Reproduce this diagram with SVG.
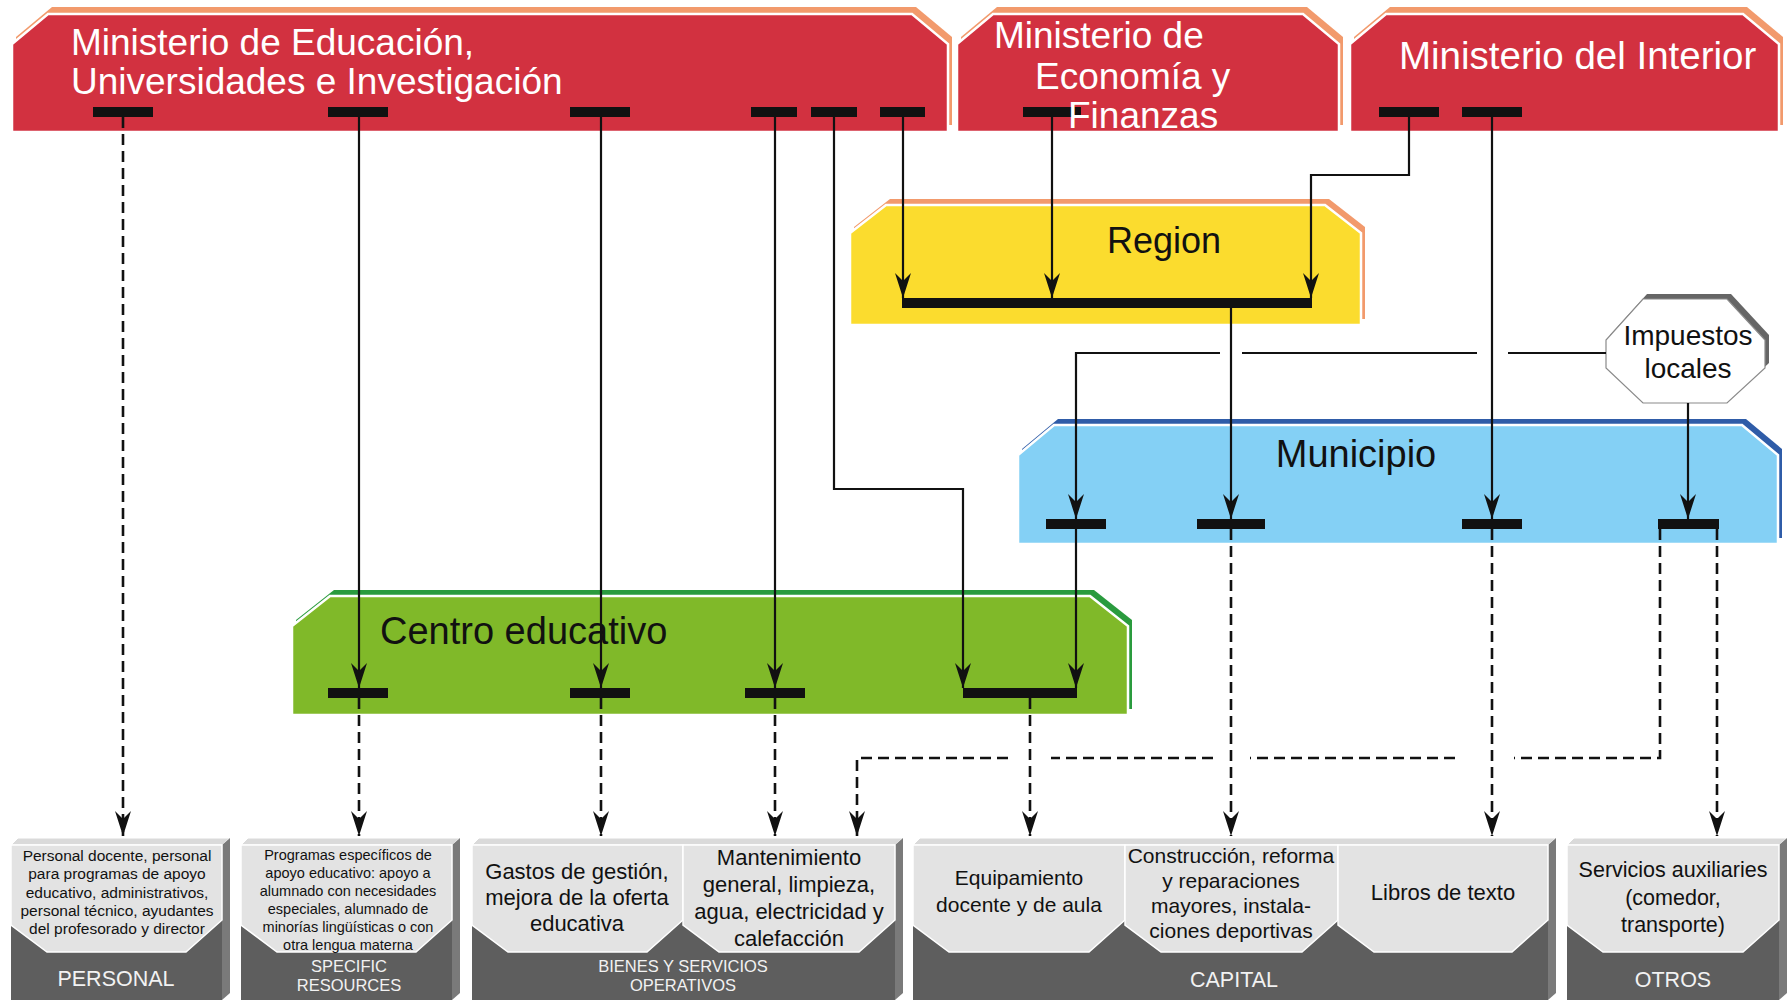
<svg xmlns="http://www.w3.org/2000/svg" width="1787" height="1000" viewBox="0 0 1787 1000">
<defs>
<style>
.t{font-family:"Liberation Sans",Arial,sans-serif;}
.mt{font-size:37px;fill:#fff;}
.ht{font-size:38px;fill:#111;text-anchor:middle;}
.bar{fill:#111;}
.ln{fill:none;stroke:#111;stroke-width:2.2;}
.dl{fill:none;stroke:#111;stroke-width:2.6;stroke-dasharray:11 6;}
.body{fill:#5e5e5e;}
.bev{fill:#dadada;stroke:#fff;stroke-width:1;}
.side{fill:#7a7a7a;}
.pan{fill:#e3e3e3;stroke:#fff;stroke-width:1.5;}
.pt{fill:#111;text-anchor:middle;}
.lb{fill:#f2f2f2;text-anchor:middle;}
</style>
<marker id="ah" markerUnits="userSpaceOnUse" markerWidth="28" markerHeight="20" viewBox="-26 -10 28 20" refX="0" refY="0" orient="auto">
<path d="M0,0 L-25,-8 L-17,0 L-25,8 Z" fill="#111"/>
</marker>
</defs>
<rect width="1787" height="1000" fill="#fff"/>

<g id="min-educacion">
<path d="M12,44 L48,14 L912,14 L948,44 L948,132 L12,132 Z" transform="translate(4,-7)" fill="#f29a6c"/>
<path d="M12,44 L48,14 L912,14 L948,44 L948,132 L12,132 Z" fill="#d23140" stroke="#fff" stroke-width="2.5"/>
<text class="t mt" x="71" y="55">Ministerio de Educación,</text>
<text class="t mt" x="71" y="94">Universidades e Investigación</text>
<rect class="bar" x="93" y="107" width="60" height="10"/>
<rect class="bar" x="328" y="107" width="60" height="10"/>
<rect class="bar" x="570" y="107" width="60" height="10"/>
<rect class="bar" x="751" y="107" width="46" height="10"/>
<rect class="bar" x="811" y="107" width="46" height="10"/>
<rect class="bar" x="880" y="107" width="45" height="10"/>
</g>

<g id="min-economia">
<path d="M957,44 L993,14 L1303,14 L1339,44 L1339,132 L957,132 Z" transform="translate(4,-7)" fill="#f29a6c"/>
<path d="M957,44 L993,14 L1303,14 L1339,44 L1339,132 L957,132 Z" fill="#d23140" stroke="#fff" stroke-width="2.5"/>
<rect class="bar" x="1023" y="107" width="58" height="10"/>
<text class="t mt" x="994" y="48">Ministerio de</text>
<text class="t mt" x="1035" y="89">Economía y</text>
<text class="t mt" x="1068" y="128">Finanzas</text>
</g>

<g id="min-interior">
<path d="M1350,44 L1386,14 L1743,14 L1779,44 L1779,132 L1350,132 Z" transform="translate(4,-7)" fill="#f29a6c"/>
<path d="M1350,44 L1386,14 L1743,14 L1779,44 L1779,132 L1350,132 Z" fill="#d23140" stroke="#fff" stroke-width="2.5"/>
<text class="t mt" x="1399" y="69" style="font-size:38.5px">Ministerio del Interior</text>
<rect class="bar" x="1379" y="107" width="60" height="10"/>
<rect class="bar" x="1462" y="107" width="60" height="10"/>
</g>

<g id="region">
<path d="M850,233 L886,205 L1325,205 L1361,233 L1361,325 L850,325 Z" transform="translate(4,-6)" fill="#f29a6c"/>
<path d="M850,233 L886,205 L1325,205 L1361,233 L1361,325 L850,325 Z" fill="#fbdc2e" stroke="#fff" stroke-width="2.5"/>
<text class="t ht" x="1164" y="253" style="font-size:36px">Region</text>
<rect class="bar" x="902" y="298" width="410" height="10"/>
</g>

<g id="impuestos-locales">
<polygon points="1643,299 1727,299 1765,340 1765,368 1727,403 1643,403 1606,368 1606,340" transform="translate(4,-5)" fill="#666"/>
<polygon points="1643,299 1727,299 1765,340 1765,368 1727,403 1643,403 1606,368 1606,340" fill="#fff" stroke="#8a8a8a" stroke-width="1.2"/>
<text class="t pt" x="1688" y="345" style="font-size:28px">Impuestos</text>
<text class="t pt" x="1688" y="378" style="font-size:28px">locales</text>
</g>

<g id="municipio">
<path d="M1018,455 L1054,425 L1742,425 L1778,455 L1778,544 L1018,544 Z" transform="translate(4,-6)" fill="#2f5ca8"/>
<path d="M1018,455 L1054,425 L1742,425 L1778,455 L1778,544 L1018,544 Z" fill="#84d0f5" stroke="#fff" stroke-width="2.5"/>
<text class="t ht" x="1356" y="467">Municipio</text>
<rect class="bar" x="1046" y="519" width="60" height="10"/>
<rect class="bar" x="1197" y="519" width="68" height="10"/>
<rect class="bar" x="1462" y="519" width="60" height="10"/>
<rect class="bar" x="1658" y="519" width="61" height="10"/>
</g>

<g id="centro-educativo">
<path d="M292,626 L330,596 L1090,596 L1128,626 L1128,715 L292,715 Z" transform="translate(4,-6)" fill="#2a9b3e"/>
<path d="M292,626 L330,596 L1090,596 L1128,626 L1128,715 L292,715 Z" fill="#80b929" stroke="#fff" stroke-width="2.5"/>
<text class="t" x="380" y="644" style="font-size:38px;fill:#111">Centro educativo</text>
<rect class="bar" x="328" y="688" width="60" height="10"/>
<rect class="bar" x="570" y="688" width="60" height="10"/>
<rect class="bar" x="745" y="688" width="60" height="10"/>
<rect class="bar" x="963" y="688" width="114" height="10"/>
</g>

<g id="personal">
<rect class="body" x="11" y="845" width="211" height="155"/>
<polygon class="bev" points="11,845 18,838 230,838 222,845"/>
<polygon class="side" points="222,845 230,838 230,993 222,1000"/>
<polygon class="pan" points="11,845 222,845 222,920 186,952 47,952 11,925"/>
<g class="t pt" style="font-size:15.5px">
<text x="117" y="861">Personal docente, personal</text>
<text x="117" y="879">para programas de apoyo</text>
<text x="117" y="898">educativo, administrativos,</text>
<text x="117" y="916">personal técnico, ayudantes</text>
<text x="117" y="934">del profesorado y director</text>
</g>
<text class="t lb" x="116" y="986" style="font-size:21.5px">PERSONAL</text>
</g>

<g id="specific-resources">
<rect class="body" x="241" y="845" width="211" height="155"/>
<polygon class="bev" points="241,845 248,838 460,838 452,845"/>
<polygon class="side" points="452,845 460,838 460,993 452,1000"/>
<polygon class="pan" points="241,845 452,845 452,920 416,952 277,952 241,925"/>
<g class="t pt" style="font-size:14.5px">
<text x="348" y="860">Programas específicos de</text>
<text x="348" y="878">apoyo educativo: apoyo a</text>
<text x="348" y="896">alumnado con necesidades</text>
<text x="348" y="914">especiales, alumnado de</text>
<text x="348" y="932">minorías lingüísticas o con</text>
<text x="348" y="950">otra lengua materna</text>
</g>
<text class="t lb" x="349" y="972" style="font-size:16.5px">SPECIFIC</text>
<text class="t lb" x="349" y="991" style="font-size:16.5px">RESOURCES</text>
</g>

<g id="bienes-servicios">
<rect class="body" x="472" y="845" width="423" height="155"/>
<polygon class="bev" points="472,845 479,838 903,838 895,845"/>
<polygon class="side" points="895,845 903,838 903,993 895,1000"/>
<polygon class="pan" points="472,845 683,845 683,920 647,952 508,952 472,925"/>
<polygon class="pan" points="683,845 895,845 895,920 859,952 719,952 683,925"/>
<g class="t pt" style="font-size:22px">
<text x="577" y="879">Gastos de gestión,</text>
<text x="577" y="905">mejora de la oferta</text>
<text x="577" y="931">educativa</text>
<text x="789" y="865">Mantenimiento</text>
<text x="789" y="892">general, limpieza,</text>
<text x="789" y="919">agua, electricidad y</text>
<text x="789" y="946">calefacción</text>
</g>
<text class="t lb" x="683" y="972" style="font-size:16.5px">BIENES Y SERVICIOS</text>
<text class="t lb" x="683" y="991" style="font-size:16.5px">OPERATIVOS</text>
</g>

<g id="capital">
<rect class="body" x="913" y="845" width="635" height="155"/>
<polygon class="bev" points="913,845 920,838 1556,838 1548,845"/>
<polygon class="side" points="1548,845 1556,838 1556,993 1548,1000"/>
<polygon class="pan" points="913,845 1125,845 1125,920 1089,952 949,952 913,925"/>
<polygon class="pan" points="1125,845 1338,845 1338,920 1302,952 1161,952 1125,925"/>
<polygon class="pan" points="1338,845 1548,845 1548,920 1512,952 1374,952 1338,925"/>
<g class="t pt" style="font-size:21px">
<text x="1019" y="885">Equipamiento</text>
<text x="1019" y="912">docente y de aula</text>
<text x="1231" y="863">Construcción, reforma</text>
<text x="1231" y="888">y reparaciones</text>
<text x="1231" y="913">mayores, instala-</text>
<text x="1231" y="938">ciones deportivas</text>
<text x="1443" y="900" style="font-size:22px">Libros de texto</text>
</g>
<text class="t lb" x="1234" y="987" style="font-size:21.5px">CAPITAL</text>
</g>

<g id="otros">
<rect class="body" x="1567" y="845" width="212" height="155"/>
<polygon class="bev" points="1567,845 1574,838 1787,838 1779,845"/>
<polygon class="side" points="1779,845 1787,838 1787,993 1779,1000"/>
<polygon class="pan" points="1567,845 1779,845 1779,920 1743,952 1603,952 1567,925"/>
<g class="t pt" style="font-size:21.5px">
<text x="1673" y="877">Servicios auxiliaries</text>
<text x="1673" y="905">(comedor,</text>
<text x="1673" y="932">transporte)</text>
</g>
<text class="t lb" x="1673" y="987" style="font-size:21.5px">OTROS</text>
</g>

<g id="connectors">
<path class="ln" d="M359,117 V688" marker-end="url(#ah)"/>
<path class="ln" d="M601,117 V688" marker-end="url(#ah)"/>
<path class="ln" d="M775,117 V688" marker-end="url(#ah)"/>
<path class="ln" d="M834,117 V489 H963 V688" marker-end="url(#ah)"/>
<path class="ln" d="M903,117 V298" marker-end="url(#ah)"/>
<path class="ln" d="M1052,117 V298" marker-end="url(#ah)"/>
<path class="ln" d="M1409,117 V175 H1311 V298" marker-end="url(#ah)"/>
<path class="ln" d="M1492,117 V519" marker-end="url(#ah)"/>
<path class="ln" d="M1231,308 V519" marker-end="url(#ah)"/>
<path class="ln" d="M1606,353 H1508"/>
<path class="ln" d="M1477,353 H1242"/>
<path class="ln" d="M1220,353 H1076 V519" marker-end="url(#ah)"/>
<path class="ln" d="M1688,403 V519" marker-end="url(#ah)"/>
<path class="ln" d="M1076,529 V688" marker-end="url(#ah)"/>
<path class="dl" d="M123,117 V836" marker-end="url(#ah)"/>
<path class="dl" d="M359,698 V836" marker-end="url(#ah)"/>
<path class="dl" d="M601,698 V836" marker-end="url(#ah)"/>
<path class="dl" d="M775,698 V836" marker-end="url(#ah)"/>
<path class="dl" d="M1030,698 V836" marker-end="url(#ah)"/>
<path class="dl" d="M1231,529 V836" marker-end="url(#ah)"/>
<path class="dl" d="M1492,529 V836" marker-end="url(#ah)"/>
<path class="dl" d="M1717,529 V836" marker-end="url(#ah)"/>
<path class="dl" d="M1660,529 V758 H1514"/>
<path class="dl" d="M1455,758 H1250"/>
<path class="dl" d="M1213,758 H1051"/>
<path class="dl" d="M1008,758 H857 V836" marker-end="url(#ah)"/>
</g>
</svg>
